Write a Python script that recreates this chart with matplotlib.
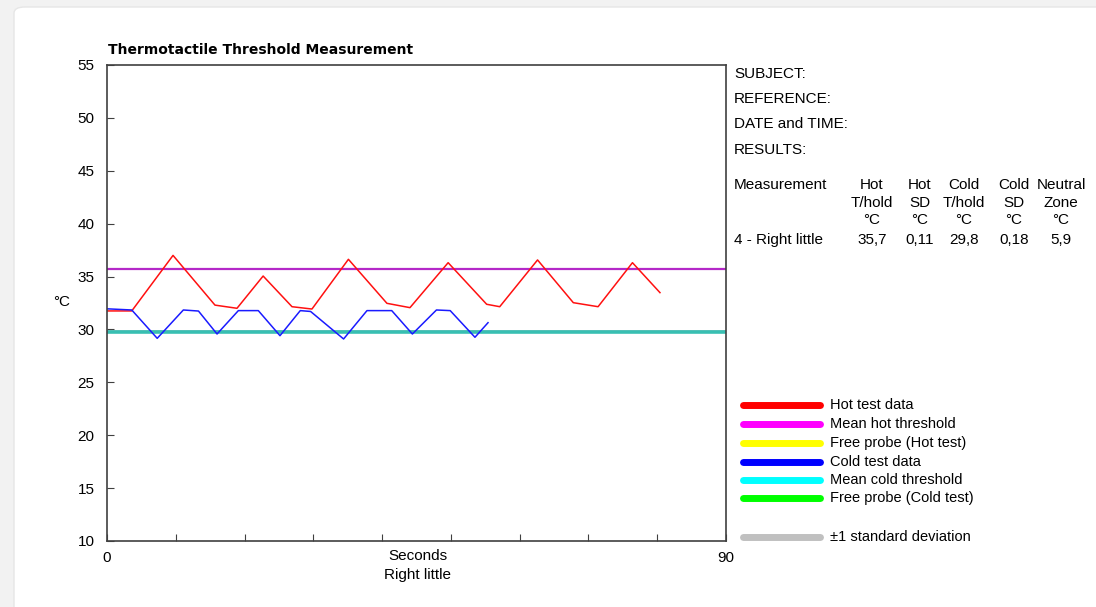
import matplotlib
matplotlib.use("Agg")
import matplotlib.pyplot as plt
from matplotlib.lines import Line2D
from matplotlib.patches import FancyBboxPatch

plt.rcParams['font.family'] = ['Liberation Sans', 'DejaVu Sans']

# ------------------------------
# Data
# ------------------------------
hot_t = [0, 3.6, 9.6, 15.7, 18.9, 22.7, 26.9, 29.8, 35.1, 40.7, 44.05,
         49.6, 55.2, 57.1, 62.6, 67.8, 71.4, 76.4, 80.4]
hot_temp = [31.75, 31.75, 37.0, 32.3, 32.0, 35.05, 32.15, 31.93, 36.63, 32.47, 32.06,
            36.31, 32.38, 32.15, 36.57, 32.53, 32.15, 36.31, 33.48]

cold_t = [0, 3.6, 7.3, 11.1, 13.3, 16.0, 19.1, 22.0, 25.15, 28.1, 29.6,
          34.4, 37.8, 41.4, 44.4, 47.9, 49.9, 53.5, 55.4]
cold_temp = [31.95, 31.84, 29.16, 31.84, 31.74, 29.57, 31.78, 31.78, 29.41, 31.78, 31.7,
             29.1, 31.78, 31.78, 29.57, 31.84, 31.78, 29.26, 30.64]

hot_mean, hot_sd = 35.7, 0.11
cold_mean, cold_sd = 29.8, 0.18

info_labels = ["SUBJECT:", "REFERENCE:", "DATE and TIME:", "RESULTS:"]
col_headers = [("Hot", "T/hold", "°C"), ("Hot", "SD", "°C"), ("Cold", "T/hold", "°C"),
               ("Cold", "SD", "°C"), ("Neutral", "Zone", "°C")]
row_name = "4 - Right little"
row_values = ["35,7", "0,11", "29,8", "0,18", "5,9"]

legend_labels = ["Hot test data", "Mean hot threshold", "Free probe (Hot test)",
                 "Cold test data", "Mean cold threshold", "Free probe (Cold test)",
                 "±1 standard deviation"]
legend_colors = ["#ff0000", "#ff00ff", "#ffff00", "#0000ff", "#00ffff", "#00ff00", "#c0c0c0"]

W, H = 1096, 607


def fx(x):
    return x / W


def fy(y):
    return 1 - y / H


fig = plt.figure(figsize=(W / 100, H / 100), dpi=100, facecolor='#f2f2f2')

# white card behind everything
card = FancyBboxPatch((fx(14), -0.05), 1.1, fy(7) + 0.05, boxstyle="round,pad=0,rounding_size=0.01",
                      transform=fig.transFigure, facecolor='white', edgecolor='#e6e6e6', lw=1,
                      zorder=-10)
fig.patches.append(card)

ax = fig.add_axes([fx(107), fy(541), fx(726) - fx(107), fy(65) - fy(541)])
ax.set_facecolor('white')

# SD bands and mean lines
ax.axhspan(hot_mean - hot_sd, hot_mean + hot_sd, color='#c8c8c8', lw=0)
ax.axhspan(cold_mean - cold_sd, cold_mean + cold_sd, color='#c8c8c8', lw=0)
ax.axhline(hot_mean, color='#b428c8', lw=1.6)
ax.axhline(cold_mean, color='#38bfb2', lw=2.6)

ax.plot(hot_t, hot_temp, color='#ff1010', lw=1.1)
ax.plot(cold_t, cold_temp, color='#1a1aff', lw=1.1)

ax.set_xlim(0, 90)
ax.set_ylim(10, 55)
ax.set_xticks(range(0, 91, 10))
ax.set_xticklabels(['0'] + [''] * 8 + ['90'])
ax.set_yticks(range(10, 56, 5))
ax.tick_params(direction='in', length=5, width=0.8, colors='#404040', labelcolor='black',
               labelsize=11)
ax.tick_params(axis='y', pad=9)
ax.tick_params(axis='x', pad=7)
for s in ax.spines.values():
    s.set_color('#404040')
    s.set_linewidth(1.2)

fig.text(fx(108), fy(50), "Thermotactile Threshold Measurement", fontsize=10,
         fontweight='bold', family='DejaVu Sans', va='center', ha='left')
fig.text(fx(62), fy(302), "°C", fontsize=11, ha='center', va='center')
fig.text(fx(418), fy(556), "Seconds", fontsize=11, ha='center', va='center')
fig.text(fx(418), fy(575), "Right little", fontsize=11, ha='center', va='center')

# info block
for lab, yy in zip(info_labels, [74, 99, 124, 150]):
    fig.text(fx(734), fy(yy), lab, fontsize=11, ha='left', va='center')

# results table
fig.text(fx(734), fy(185), "Measurement", fontsize=11, ha='left', va='center')
fig.text(fx(734), fy(240), row_name, fontsize=11, ha='left', va='center')
col_x = [872, 920, 964, 1014, 1061]
for cx, hdr, val in zip(col_x, col_headers, row_values):
    for line, yy in zip(hdr, [185, 203, 220]):
        fig.text(fx(cx), fy(yy), line, fontsize=11, ha='center', va='center')
    fig.text(fx(cx), fy(240), val, fontsize=11, ha='center', va='center')

# legend
leg_y = [405, 424, 443, 462, 480, 498, 537]
for lab, col, yy in zip(legend_labels, legend_colors, leg_y):
    fig.add_artist(Line2D([fx(743), fx(820)], [fy(yy), fy(yy)], transform=fig.transFigure,
                          color=col, lw=5, solid_capstyle='round'))
    fig.text(fx(830), fy(yy), lab, fontsize=10.5, ha='left', va='center')

fig.savefig("out.png", dpi=100, facecolor=fig.get_facecolor())
